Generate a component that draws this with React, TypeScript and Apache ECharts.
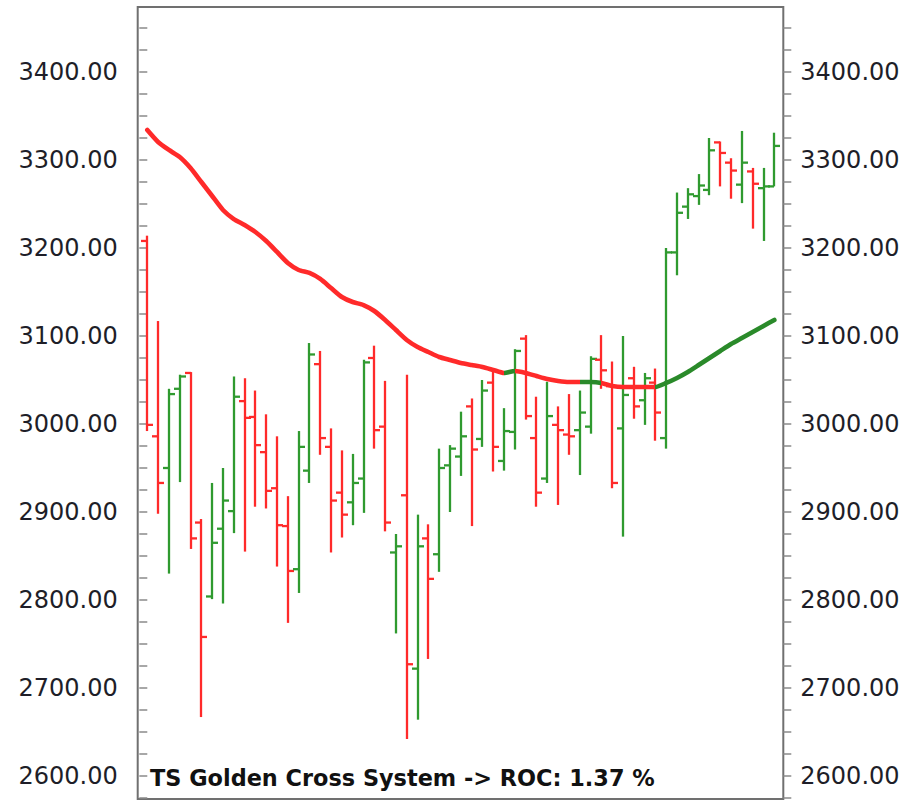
import React, { useEffect, useRef } from "react";
import * as echarts from "echarts";

const opens = [3208, 2986, 2950, 3040, 3058, 2888, 2804, 2881, 2901, 3026, 3008, 2968, 2927, 2884, 2835, 2947, 3068, 2974, 2922, 2911, 2938, 3075, 2997, 2854, 2919, 2722, 2870, 2852, 2953, 2963, 3020, 2983, 3047, 2958, 2991, 3097, 2984, 2938, 2999, 2988, 2993, 2997, 3073, 3043, 2995, 3052, 3027, 3047, 2984, 3195, 3247, 3259, 3266, 3320, 3297, 3272, 3287, 3268, 3270];
const highs = [3214, 3117, 3040, 3056, 3059, 2892, 2933, 2950, 3054, 3052, 3038, 3011, 2986, 2918, 2992, 3092, 3083, 2995, 2970, 2966, 3073, 3089, 3049, 2875, 3056, 2897, 2886, 2972, 2976, 3014, 3029, 3050, 3061, 3018, 3085, 3101, 3031, 3048, 3020, 3034, 3038, 3077, 3101, 3071, 3100, 3065, 3058, 3063, 3200, 3263, 3268, 3284, 3325, 3321, 3302, 3333, 3291, 3291, 3331];
const lows = [2992, 2898, 2830, 2934, 2858, 2667, 2801, 2796, 2876, 2855, 2906, 2904, 2838, 2774, 2808, 2933, 2965, 2854, 2871, 2885, 2899, 2972, 2878, 2762, 2642, 2664, 2733, 2832, 2900, 2941, 2884, 2974, 2946, 2947, 2971, 3005, 2906, 2933, 2908, 2965, 2942, 2989, 3040, 2927, 2872, 3006, 2999, 2981, 2972, 3169, 3233, 3249, 3260, 3270, 3256, 3251, 3222, 3208, 3270];
const closes = [2999, 2933, 3034, 3054, 2870, 2758, 2865, 2913, 3031, 3007, 2976, 2924, 2885, 2833, 2974, 3079, 2984, 2913, 2897, 2933, 3070, 2993, 2888, 2861, 2727, 2861, 2824, 2950, 2972, 2986, 2971, 3038, 2974, 2992, 3083, 3009, 2922, 3009, 2993, 2986, 3013, 3074, 3061, 2933, 3033, 3020, 3052, 3013, 3195, 3240, 3261, 3271, 3311, 3308, 3288, 3297, 3273, 3270, 3316];
const movingAvg = [3334.1, 3320.5, 3311.4, 3303.4, 3290.9, 3275.0, 3259.1, 3243.2, 3232.9, 3226.1, 3218.2, 3207.9, 3195.5, 3183.0, 3175.0, 3171.6, 3164.8, 3154.5, 3144.3, 3138.6, 3135.2, 3128.4, 3118.2, 3106.8, 3095.5, 3087.5, 3081.8, 3076.1, 3072.7, 3069.3, 3067.0, 3064.8, 3061.4, 3058.0, 3060.2, 3058.0, 3054.5, 3051.1, 3048.9, 3047.7, 3047.7, 3047.7, 3046.6, 3043.2, 3042.0, 3042.0, 3042.0, 3042.0, 3046.6, 3052.3, 3059.1, 3067.0, 3075.0, 3083.0, 3090.9, 3097.7, 3104.5, 3111.4, 3118.2];
const yLabelValues = [2600, 2700, 2800, 2900, 3000, 3100, 3200, 3300, 3400];
const yTickValues = [2575, 2600, 2625, 2650, 2675, 2700, 2725, 2750, 2775, 2800, 2825, 2850, 2875, 2900, 2925, 2950, 2975, 3000, 3025, 3050, 3075, 3100, 3125, 3150, 3175, 3200, 3225, 3250, 3275, 3300, 3325, 3350, 3375, 3400, 3425, 3450];
const titleText = "TS Golden Cross System -> ROC: 1.37 %";

const RED = "#ff2a2a";
const GREEN = "#2f9a2f";
const LINE_GREEN = "#2a8a2a";

export default function App() {
  const ref = useRef<HTMLDivElement>(null);
  useEffect(() => {
    if (!ref.current) return;
    const chart = echarts.init(ref.current, null, { renderer: "svg" });
    const ohlc = opens.map((o, i) => [i, o, highs[i], lows[i], closes[i]]);
    const ma = movingAvg.map((v, i) => [i, v]);
    const yAxisCommon = (pos: "left" | "right", margin: number) => ({
      type: "value",
      position: pos,
      min: 2573.86,
      max: 3473.86,
      splitLine: { show: false },
      axisLine: { show: false },
      axisTick: {
        show: true,
        inside: false,
        length: 8,
        customValues: yTickValues,
        lineStyle: { color: "#8a8a8a", width: 1.5 },
      },
      axisLabel: {
        show: true,
        margin,
        customValues: yLabelValues,
        formatter: (v: number) => v.toFixed(2),
        fontFamily: "DejaVu Sans",
        fontSize: 24,
        color: "#1e1e28",
      },
    });
    chart.setOption({
      animation: false,
      backgroundColor: "#ffffff",
      grid: {
        left: 137.7,
        right: 128.7,
        top: 7,
        bottom: 9,
        show: true,
        borderColor: "#707070",
        borderWidth: 2,
        backgroundColor: "transparent",
      },
      xAxis: {
        type: "value",
        min: -0.888,
        max: 58.83,
        show: false,
      },
      yAxis: [yAxisCommon("left", 20), yAxisCommon("right", 17)],
      visualMap: {
        type: "piecewise",
        show: false,
        dimension: 0,
        seriesIndex: 1,
        pieces: [
          { lt: 33, color: RED },
          { gte: 33, lte: 34, color: LINE_GREEN },
          { gt: 34, lt: 40, color: RED },
          { gte: 40, lte: 42, color: LINE_GREEN },
          { gt: 42, lt: 47, color: RED },
          { gte: 47, color: LINE_GREEN },
        ],
      },
      series: [
        {
          type: "custom",
          data: ohlc,
          encode: { x: 0, y: [1, 2, 3, 4] },
          z: 2,
          renderItem: (params: any, api: any) => {
            const i = api.value(0);
            const o = api.value(1);
            const h = api.value(2);
            const l = api.value(3);
            const c = api.value(4);
            const pH = api.coord([i, h]);
            const pL = api.coord([i, l]);
            const pO = api.coord([i, o]);
            const pC = api.coord([i, c]);
            const color = c >= o ? GREEN : RED;
            const style = { stroke: color, lineWidth: 2.3 };
            const x = Math.round(pH[0]);
            return {
              type: "group",
              children: [
                { type: "line", shape: { x1: x, y1: pH[1], x2: x, y2: pL[1] }, style },
                { type: "line", shape: { x1: x - 6, y1: pO[1], x2: x, y2: pO[1] }, style },
                { type: "line", shape: { x1: x, y1: pC[1], x2: x + 6, y2: pC[1] }, style },
              ],
            };
          },
        },
        {
          type: "line",
          data: ma,
          yAxisIndex: 0,
          symbol: "none",
          smooth: 0.2,
          z: 5,
          lineStyle: { width: 4.6, cap: "round", join: "round" },
        },
      ],
      graphic: [
        {
          type: "text",
          x: 150,
          y: 777.5,
          style: {
            text: titleText,
            font: 'bold 22.4px "DejaVu Sans"',
            fill: "#111",
            textVerticalAlign: "middle",
          },
          z: 10,
        },
      ],
    });
    return () => chart.dispose();
  }, []);
  return (
    <div
      ref={ref}
      style={{ position: "fixed", left: 0, top: 0, width: 912, height: 808 }}
    />
  );
}
